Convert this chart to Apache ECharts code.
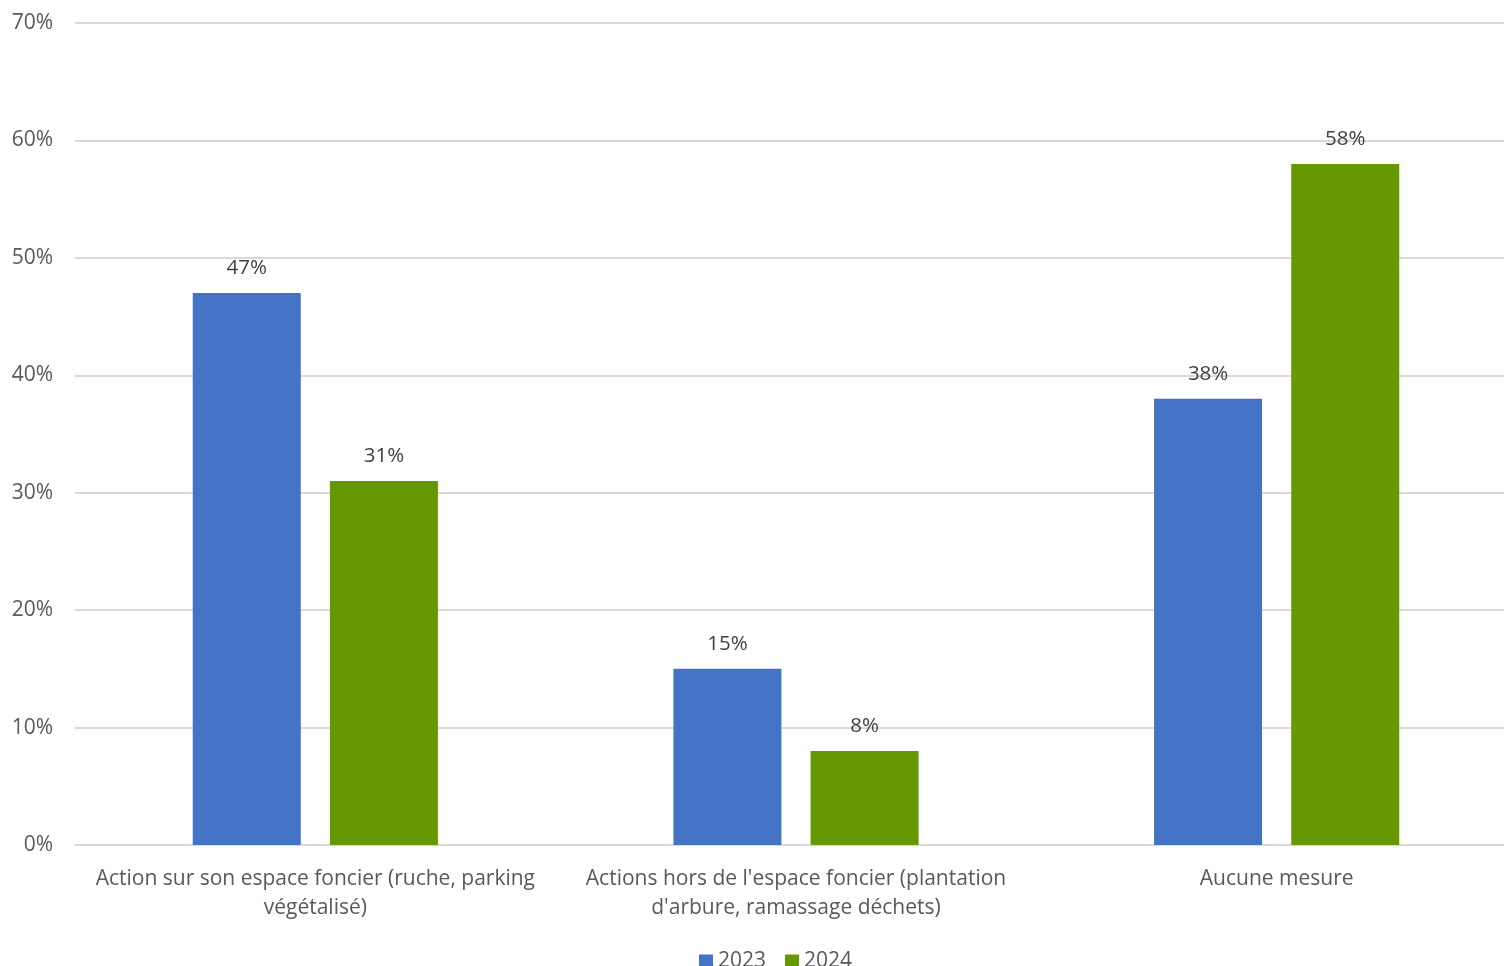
<!DOCTYPE html>
<html>
<head>
<meta charset="utf-8">
<script src="https://cdn.jsdelivr.net/npm/echarts@6/dist/echarts.min.js"></script>
<style>
html,body{margin:0;padding:0;background:#fff;}
#chart{width:1504px;height:966px;}
</style>
</head>
<body>
<div id="chart"></div>
<script>
const categories = [
  "Action sur son espace foncier (ruche, parking\nvégétalisé)",
  "Actions hors de l'espace foncier (plantation\nd'arbure, ramassage déchets)",
  "Aucune mesure"
];
const seriesNames = ["2023", "2024"];
const values2023 = [47, 15, 38];
const values2024 = [31, 8, 58];
const yTicks = [0, 10, 20, 30, 40, 50, 60, 70];

const FONT = "'Open Sans', sans-serif";
const chart = echarts.init(document.getElementById('chart'));
const labelCfg = {
  show: true, position: 'top', distance: 14,
  formatter: p => p.value + '%',
  color: '#404040', fontSize: 20.5, fontFamily: FONT
};
chart.setOption({
  animation: false,
  textStyle: { fontFamily: FONT },
  grid: { left: 75, top: 23, width: 1442, height: 822, containLabel: false, outerBoundsMode: 'none' },
  legend: {
    data: seriesNames, top: 946, left: 694,
    itemWidth: 14, itemHeight: 14, itemGap: 19,
    icon: 'rect',
    textStyle: { color: '#595959', fontSize: 21, fontFamily: FONT }
  },
  xAxis: {
    type: 'category', data: categories,
    axisTick: { show: false },
    axisLine: { lineStyle: { color: '#d9d9d9', width: 2 } },
    axisLabel: { color: '#595959', fontSize: 21, lineHeight: 29, margin: 20, fontFamily: FONT, interval: 0 }
  },
  yAxis: {
    type: 'value', min: yTicks[0], max: yTicks[yTicks.length - 1], interval: 10,
    axisLine: { show: false }, axisTick: { show: false },
    splitLine: { lineStyle: { color: '#d9d9d9', width: 2 } },
    axisLabel: { formatter: v => v + '%', color: '#595959', fontSize: 21, margin: 22, fontFamily: FONT }
  },
  series: [
    { name: seriesNames[0], type: 'bar', data: values2023, barWidth: 108, barGap: '27%',
      itemStyle: { color: '#4472C4' }, label: labelCfg },
    { name: seriesNames[1], type: 'bar', data: values2024, barWidth: 108, barGap: '27%',
      itemStyle: { color: '#669900' }, label: labelCfg }
  ]
});
</script>
</body>
</html>
